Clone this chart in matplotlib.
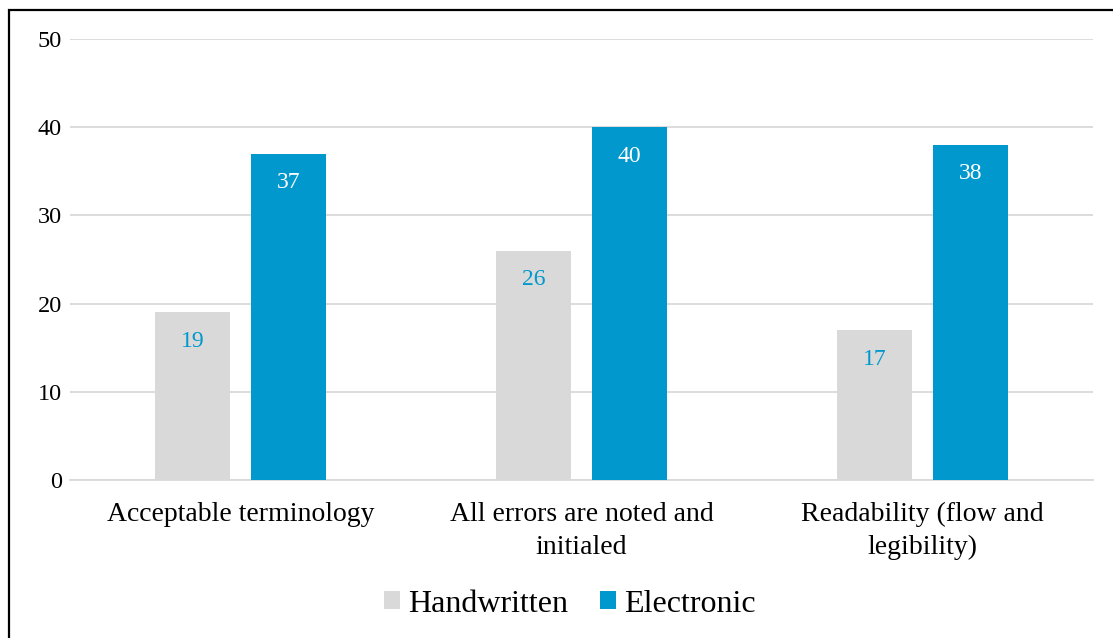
import matplotlib
matplotlib.use('Agg')
import matplotlib.pyplot as plt
import numpy as np
from matplotlib.patches import Rectangle

categories = ['Acceptable terminology', 'All errors are noted and\ninitialed', 'Readability (flow and\nlegibility)']
handwritten = [19, 26, 17]
electronic = [37, 40, 38]

grey = '#d9d9d9'
blue = '#0098cd'

plt.rcParams['font.family'] = ['Liberation Serif', 'DejaVu Serif']

fig = plt.figure(figsize=(11.13, 6.38), dpi=100)
ax = fig.add_axes([70 / 1113, 1 - 480 / 638, 1023 / 1113, 441 / 638])

x = np.arange(len(categories))
w = 0.222
off = 0.141
b1 = ax.bar(x - off, handwritten, w, color=grey, label='Handwritten', zorder=3)
b2 = ax.bar(x + off, electronic, w, color=blue, label='Electronic', zorder=3)

# value labels sit inside the top of each bar
for rect, v in zip(b1, handwritten):
    ax.text(rect.get_x() + rect.get_width() / 2, v - 3.3, str(v), ha='center', va='center',
            color=blue, fontsize=17, zorder=4)
for rect, v in zip(b2, electronic):
    ax.text(rect.get_x() + rect.get_width() / 2, v - 3.3, str(v), ha='center', va='center',
            color='white', fontsize=17, zorder=4)

ax.set_xlim(-0.5, 2.5)
ax.set_ylim(0, 50)
ax.set_yticks(range(0, 51, 10))
ax.set_xticks(x)
ax.set_xticklabels(categories, fontsize=20, linespacing=1.4)
ax.tick_params(axis='y', labelsize=17.5, length=0, pad=6)
ax.tick_params(axis='x', length=0, pad=16)
ax.yaxis.grid(True, color=grey, linewidth=1.3, zorder=0)
for s in ['top', 'right', 'left']:
    ax.spines[s].set_visible(False)
ax.spines['bottom'].set_color(grey)
ax.spines['bottom'].set_linewidth(1.3)

fig.legend(loc='center', bbox_to_anchor=(570 / 1113, 1 - 604 / 638), ncol=2, frameon=False,
           fontsize=23, handlelength=0.5, handleheight=0.5, handletextpad=0.25, columnspacing=1.0)

fig.patches.append(Rectangle((9 / 1113, -0.05), 1.2, 1 - 9.5 / 638 + 0.05, transform=fig.transFigure,
                             fill=False, edgecolor='black', linewidth=1.6))

fig.savefig('out.png', dpi=100)
